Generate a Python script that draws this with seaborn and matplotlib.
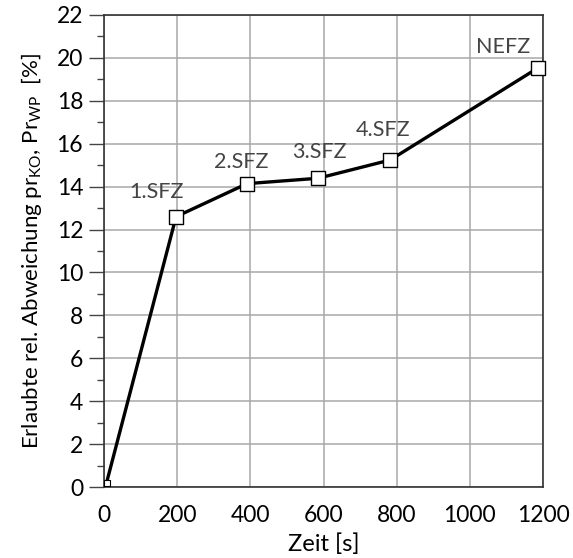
import matplotlib
matplotlib.use("Agg")
import matplotlib.pyplot as plt
import seaborn as sns
import pandas as pd
from matplotlib.ticker import MultipleLocator

zeit = [7, 197, 391, 585, 782, 1185]
abweichung = [0.2, 12.6, 14.14, 14.39, 15.24, 19.52]
labels = ["", "1.SFZ", "2.SFZ", "3.SFZ", "4.SFZ", "NEFZ"]
label_x = [145, 145, 375, 590, 762, 1090]
label_y = [0, 13.75, 15.15, 15.6, 16.65, 20.5]
x_ticks = [0, 200, 400, 600, 800, 1000, 1200]
y_ticks = list(range(0, 23, 2))

sns.set_theme(style="white")
plt.rcParams["font.family"] = ["Lato", "DejaVu Sans"]
plt.rcParams["mathtext.fontset"] = "custom"
plt.rcParams["mathtext.rm"] = "Lato"

df = pd.DataFrame({"Zeit": zeit, "Abw": abweichung})

fig = plt.figure(figsize=(5.73, 5.58), dpi=100)
ax = fig.add_axes([104/573, 1-487/558, (543-104)/573, (487-15)/558])

sns.lineplot(data=df, x="Zeit", y="Abw", ax=ax, color="black", linewidth=2.4, zorder=3)
sns.scatterplot(data=df.iloc[1:], x="Zeit", y="Abw", ax=ax, marker="s", s=95,
                color="white", edgecolor="black", linewidth=1.0, zorder=4, clip_on=False)
sns.scatterplot(data=df.iloc[:1], x="Zeit", y="Abw", ax=ax, marker="s", s=25,
                color="white", edgecolor="black", linewidth=0.8, zorder=4, clip_on=False)

for lx, ly, t in zip(label_x, label_y, labels):
    if t:
        ax.text(lx, ly, t, ha="center", va="center", fontsize=15.5, color="#444444")

ax.set_xlim(0, 1200)
ax.set_ylim(0, 22)
ax.set_xticks(x_ticks)
ax.set_yticks(y_ticks)
ax.yaxis.set_minor_locator(MultipleLocator(1))
ax.grid(True, which="major", color="#a8a8a8", linewidth=1.1)
ax.tick_params(axis="y", which="major", left=True, length=11, width=1.0, color="#444444", labelsize=16.5, pad=4, labelcolor="black")
ax.tick_params(axis="y", which="minor", left=True, length=5, width=1.0, color="#444444")
ax.tick_params(axis="x", which="major", bottom=False, labelsize=16.5, pad=7, labelcolor="black")
for s in ax.spines.values():
    s.set_color("#333333")
    s.set_linewidth(1.2)

ax.set_xlabel("Zeit [s]", fontsize=17, labelpad=5, color="black")
ax.set_ylabel(r"Erlaubte rel. Abweichung pr$_\mathregular{KO}$, Pr$_\mathregular{WP}$  [%]", fontsize=16, labelpad=9, color="black")

fig.savefig("out.png", dpi=100)
